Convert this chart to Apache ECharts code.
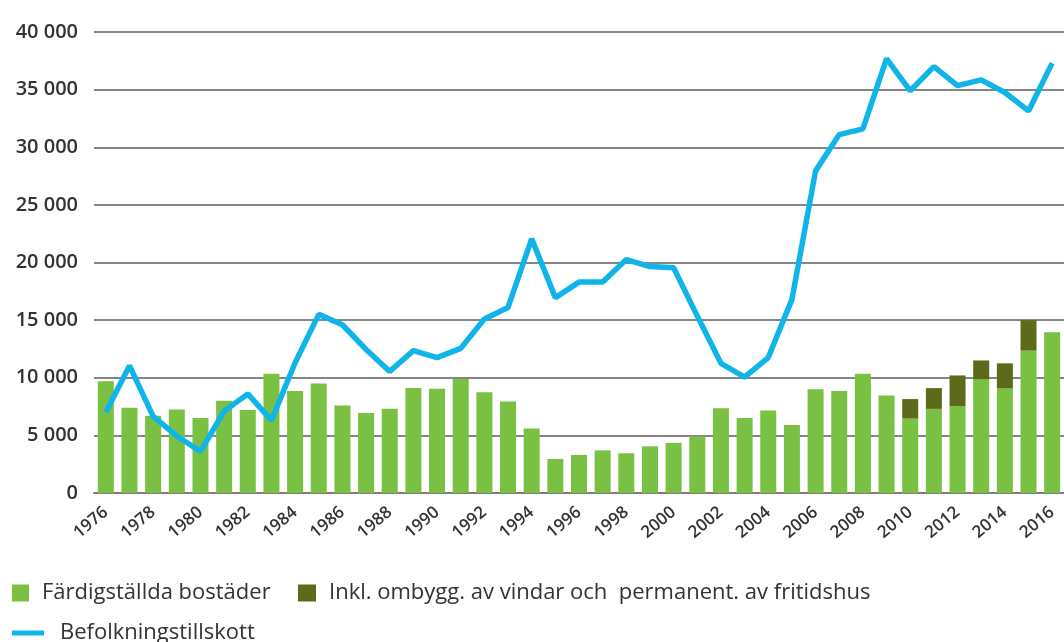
<!DOCTYPE html>
<html>
<head>
<meta charset="utf-8">
<script src="https://cdn.jsdelivr.net/npm/echarts@6/dist/echarts.min.js"></script>
<style>
  html, body { margin: 0; padding: 0; background: #fff; }
  #chart { width: 1064px; height: 642px; }
</style>
</head>
<body>
<div id="chart"></div>
<script>
const years = []
for (let y = 1976; y <= 2016; y++) years.push(String(y))

// Färdigställda bostäder
const completed = [
  9700, 7400, 6700, 7250, 6500, 8000, 7200, 10350, 8850, 9500,
  7600, 6950, 7300, 9100, 9050, 9900, 8750, 7950, 5600, 2950,
  3300, 3700, 3450, 4050, 4350, 4900, 7350, 6500, 7150, 5900,
  9000, 8850, 10350, 8450, 6450, 7300, 7550, 9850, 9100, 12350,
  13950
]

// Inkl. ombyggnad av vindar och permanentning av fritidshus (tillägg)
const conversions = [
  0, 0, 0, 0, 0, 0, 0, 0, 0, 0,
  0, 0, 0, 0, 0, 0, 0, 0, 0, 0,
  0, 0, 0, 0, 0, 0, 0, 0, 0, 0,
  0, 0, 0, 0, 1700, 1800, 2650, 1650, 2150, 2650,
  0
]

// Befolkningstillskott
const popGrowth = [
  7000, 11050, 6650, 4950, 3600, 7100, 8600, 6300, 11300, 15500,
  14600, 12450, 10550, 12350, 11750, 12550, 15100, 16100, 22050, 16950,
  18300, 18300, 20250, 19650, 19550, 15350, 11250, 10050, 11750, 16800,
  27950, 31100, 31600, 37700, 34900, 37000, 35350, 35850, 34750, 33150,
  37300
]

const names = [
  'Färdigställda bostäder',
  'Inkl. ombygg. av vindar och  permanent. av fritidshus',
  'Befolkningstillskott'
]

const font = 'Open Sans'
const textColor = '#333333'

const chart = echarts.init(document.getElementById('chart'))

const legendText = {
  fontFamily: font,
  fontSize: 22,
  color: textColor,
  padding: [0, 0, 0, 8]
}

chart.setOption({
  animation: false,
  textStyle: { fontFamily: font },
  grid: { left: 94, right: -2, top: 32, bottom: 149, containLabel: false },
  legend: [
    {
      data: [names[0]], left: 12, top: 582, padding: 0, itemWidth: 17, itemHeight: 17,
      icon: 'rect', textStyle: legendText
    },
    {
      data: [names[1]], left: 298, top: 582, padding: 0, itemWidth: 18, itemHeight: 17,
      icon: 'rect', textStyle: legendText
    },
    {
      data: [names[2]], left: 12, top: 622, padding: 0, itemWidth: 32, itemHeight: 5,
      icon: 'rect', textStyle: Object.assign({}, legendText, { padding: [0, 0, 0, 11] })
    }
  ],
  xAxis: {
    type: 'category',
    data: years,
    axisTick: { show: false },
    axisLine: { lineStyle: { color: '#7d7d7d', width: 2 } },
    axisLabel: {
      interval: 1,
      rotate: 40,
      margin: 17,
      fontSize: 17,
      fontWeight: 600,
      color: textColor,
      fontFamily: font
    }
  },
  yAxis: {
    type: 'value',
    min: 0,
    max: 40000,
    interval: 5000,
    axisLine: { show: false },
    axisTick: { show: false },
    splitLine: { lineStyle: { color: '#858585', width: 2 } },
    axisLabel: {
      margin: 16,
      fontSize: 20,
      fontWeight: 600,
      color: textColor,
      fontFamily: font,
      formatter: v => String(v).replace(/\B(?=(\d{3})+(?!\d))/g, ' ')
    }
  },
  series: [
    {
      name: names[0],
      type: 'bar',
      stack: 'bost',
      barWidth: 16,
      itemStyle: { color: '#7ac143' },
      data: completed
    },
    {
      name: names[1],
      type: 'bar',
      stack: 'bost',
      barWidth: 16,
      itemStyle: { color: '#5d6a1b' },
      data: conversions.map(v => (v ? v : '-'))
    },
    {
      name: names[2],
      type: 'line',
      symbol: 'none',
      z: 5,
      lineStyle: { color: '#0fb4e8', width: 5.5 },
      itemStyle: { color: '#0fb4e8' },
      data: popGrowth
    }
  ]
})
</script>
</body>
</html>
